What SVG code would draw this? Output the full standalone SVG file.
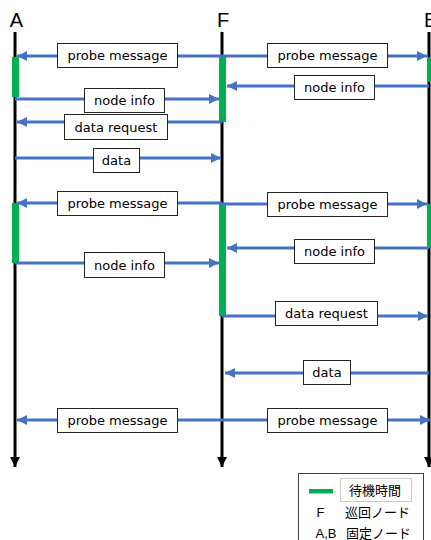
<svg xmlns="http://www.w3.org/2000/svg" width="431" height="540" viewBox="0 0 431 540">
  <style>
    .life { stroke: #000; stroke-width: 3; fill: none; }
    .msg { stroke: #4472C4; stroke-width: 3; fill: none; marker-end: url(#blueHead); }
    .wait { fill: #00B050; }
    .lbl rect { fill: #fff; stroke: #262626; stroke-width: 1; }
    .lbl text { font-family: "DejaVu Sans", Verdana, sans-serif; font-size: 13px; fill: #000; text-anchor: middle; }
    .head { font-family: "Liberation Sans", Arial, sans-serif; font-size: 20px; fill: #000; }
    .legend text { font-family: "Liberation Sans", "Noto Sans CJK JP", sans-serif; font-size: 13px; fill: #000; }
  </style>
  <defs>
    <marker id="blueHead" markerUnits="userSpaceOnUse" markerWidth="10" markerHeight="10" refX="10" refY="5" orient="auto">
      <path d="M0,0 L10,5 L0,10 Z" fill="#4472C4"/>
    </marker>
    <marker id="blackHead" markerUnits="userSpaceOnUse" markerWidth="10" markerHeight="10" refX="10" refY="5" orient="auto">
      <path d="M0,0 L10,5 L0,10 Z" fill="#000"/>
    </marker>
  </defs>

  <rect width="431" height="540" fill="#fff"/>

  <!-- lifelines with waiting periods -->
  <g id="node-A">
    <text class="head" x="16.5" y="26.5" text-anchor="middle">A</text>
    <line class="life" x1="15" y1="32" x2="15" y2="467" marker-end="url(#blackHead)"/>
    <rect class="wait" x="12" y="57" width="7" height="40"/>
    <rect class="wait" x="12" y="203" width="7" height="60"/>
  </g>
  <g id="node-F">
    <text class="head" x="223" y="26.5" text-anchor="middle">F</text>
    <line class="life" x1="222" y1="32" x2="222" y2="467" marker-end="url(#blackHead)"/>
    <rect class="wait" x="219" y="57" width="7" height="65"/>
    <rect class="wait" x="219" y="203" width="7" height="113"/>
  </g>
  <g id="node-B">
    <text class="head" x="424" y="26.5">B</text>
    <line class="life" x1="429" y1="32" x2="429" y2="467" marker-end="url(#blackHead)"/>
    <rect class="wait" x="427" y="57" width="7" height="25"/>
    <rect class="wait" x="427" y="204" width="7" height="44"/>
  </g>

  <!-- messages -->
  <g id="connectors">
    <line class="msg" x1="222" y1="56" x2="17" y2="56"/>
    <line class="msg" x1="222" y1="56" x2="427" y2="56"/>
    <line class="msg" x1="429" y1="86" x2="227" y2="86"/>
    <line class="msg" x1="15" y1="99" x2="219" y2="99"/>
    <line class="msg" x1="222" y1="122" x2="17" y2="122"/>
    <line class="msg" x1="15" y1="158" x2="221" y2="158"/>
    <line class="msg" x1="222" y1="203" x2="17" y2="203"/>
    <line class="msg" x1="222" y1="204" x2="427" y2="204"/>
    <line class="msg" x1="429" y1="248" x2="227" y2="248"/>
    <line class="msg" x1="15" y1="263" x2="219" y2="263"/>
    <line class="msg" x1="222" y1="316" x2="428" y2="316"/>
    <line class="msg" x1="429" y1="373" x2="225" y2="373"/>
    <line class="msg" x1="222" y1="420" x2="17" y2="420"/>
    <line class="msg" x1="222" y1="420" x2="430" y2="420"/>
  </g>

  <!-- message labels -->
  <g id="labels" class="lbl">
    <rect x="57.5" y="43.5" width="120" height="24"/><text x="117.5" y="60">probe message</text>
    <rect x="267.5" y="43.5" width="120" height="24"/><text x="327.5" y="60">probe message</text>
    <rect x="294.5" y="75.5" width="80" height="24"/><text x="334.5" y="92">node info</text>
    <rect x="84.5" y="88.5" width="80" height="24"/><text x="124.5" y="105">node info</text>
    <rect x="64.5" y="114.5" width="103" height="25"/><text x="116" y="131.5">data request</text>
    <rect x="93.5" y="148.5" width="46" height="24"/><text x="116.5" y="165">data</text>
    <rect x="57.5" y="191.5" width="120" height="24"/><text x="117.5" y="208">probe message</text>
    <rect x="267.5" y="192.5" width="120" height="24"/><text x="327.5" y="209">probe message</text>
    <rect x="294.5" y="239.5" width="80" height="24"/><text x="334.5" y="256">node info</text>
    <rect x="84.5" y="252.5" width="80" height="25"/><text x="124.5" y="269.5">node info</text>
    <rect x="275.5" y="301.5" width="102" height="24"/><text x="326.5" y="318">data request</text>
    <rect x="303.5" y="360.5" width="47" height="24"/><text x="327" y="377">data</text>
    <rect x="57.5" y="408.5" width="120" height="24"/><text x="117.5" y="425">probe message</text>
    <rect x="267.5" y="408.5" width="120" height="24"/><text x="327.5" y="425">probe message</text>
  </g>

  <!-- legend -->
  <g id="legend" class="legend">
    <rect x="298.5" y="473.5" width="125" height="80" fill="#fff" stroke="#404040" stroke-width="1"/>
    <rect x="340.5" y="478.5" width="71" height="23" fill="#fff" stroke="#c8c8c8" stroke-width="1"/>
    <rect x="309" y="489" width="24" height="4.5" fill="#00B050"/>
    <text x="349" y="495">待機時間</text>
    <text x="320.5" y="517" text-anchor="middle">F</text>
    <text x="345" y="517">巡回ノード</text>
    <text x="326" y="538" text-anchor="middle">A,B</text>
    <text x="346" y="538">固定ノード</text>
  </g>
</svg>
